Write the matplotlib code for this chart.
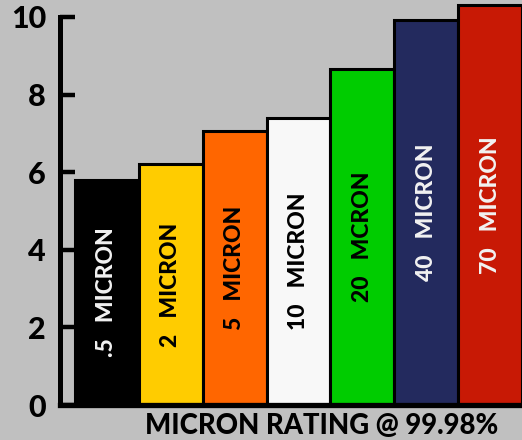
import matplotlib
matplotlib.use("Agg")
import matplotlib.pyplot as plt

sizes = ['.5', '2', '5', '10', '20', '40', '70']
words = ['MICRON', 'MICRON', 'MICRON', 'MICRON', 'MCRON', 'MICRON', 'MICRON']
values = [5.8, 6.2, 7.05, 7.4, 8.65, 9.92, 10.3]
colors = ['#000000', '#ffcc00', '#ff6600', '#f8f8f8', '#00cc00', '#232a5e', '#c81905']
text_colors = ['#f2f2f2', '#000000', '#000000', '#000000', '#000000', '#f2f2f2', '#f2f2f2']
yticks = [0, 2, 4, 6, 8, 10]

bg = '#c0c0c0'
plt.rcParams['font.family'] = ['Lato', 'DejaVu Sans']

fig = plt.figure(figsize=(5.22, 4.4), dpi=100, facecolor=bg)
ax = fig.add_axes([60 / 522, 35 / 440, 462 / 522, 405 / 440])
ax.set_facecolor(bg)

x = list(range(len(values)))
ax.bar(x, values, width=1.0, color=colors, edgecolor='black', linewidth=2.2, zorder=2)

# labels sit at mid-height of each bar
for xi, v, s, w, tc in zip(x, values, sizes, words, text_colors):
    ax.text(xi, v / 2, s + '   ' + w, rotation=90, ha='center', va='center',
            color=tc, fontsize=16.5, fontweight='black', zorder=3)

ax.set_xlim(-0.735, 6.5)
ax.set_ylim(0, 405 / 38.8)
ax.set_xticks([])
ax.set_yticks(yticks)
ax.set_yticklabels([str(t) for t in yticks], fontsize=22, fontweight='black')
ax.tick_params(axis='y', direction='in', length=11, width=3.2, pad=10, colors='black')

for side in ['top', 'right']:
    ax.spines[side].set_visible(False)
ax.spines['left'].set_linewidth(3.6)
ax.spines['left'].set_bounds(0, 10)
ax.spines['bottom'].set_linewidth(3.8)
ax.spines['bottom'].set_zorder(4)

fig.text(322 / 522, 14 / 440, 'MICRON RATING @ 99.98%', ha='center', va='center',
         fontsize=19.8, fontweight='black')

fig.savefig('out.png', dpi=100, facecolor=bg)
